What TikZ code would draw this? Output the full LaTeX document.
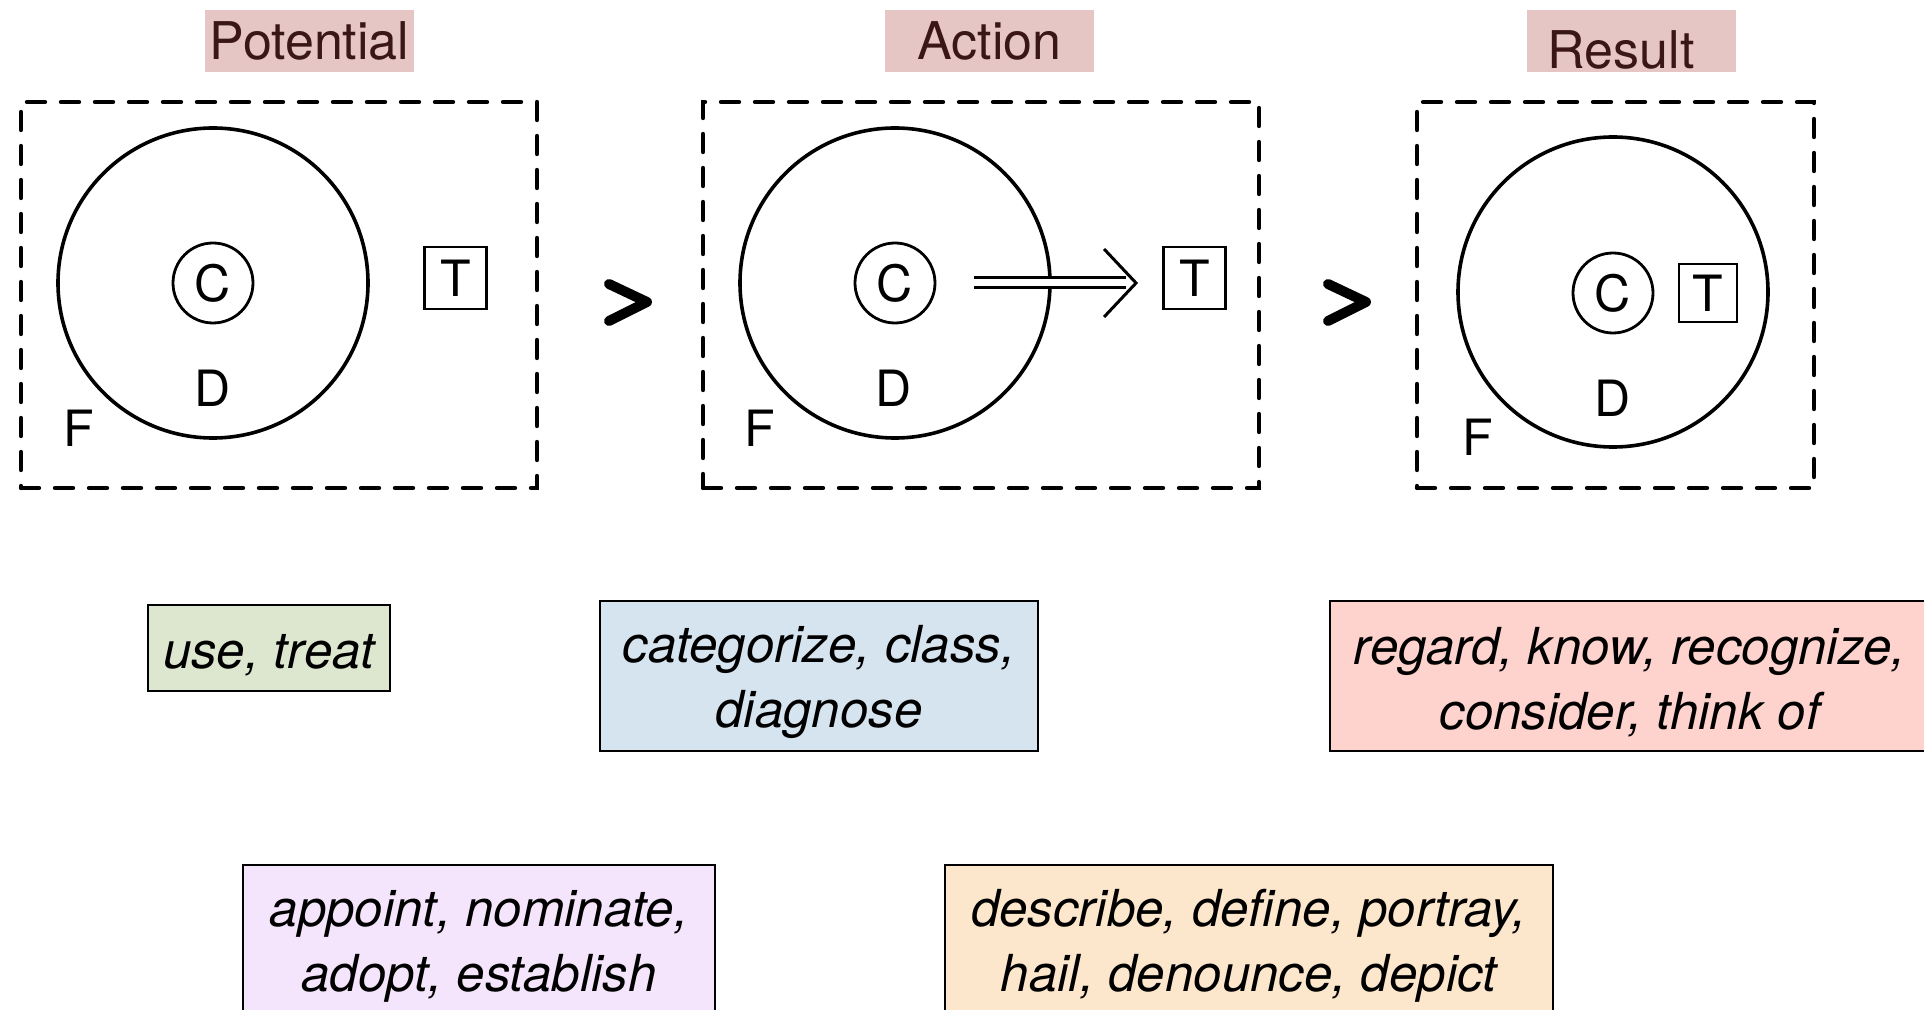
\documentclass[tikz,border=0pt]{standalone}
\usepackage{fontspec}
\setmainfont{TeX Gyre Heros}
\usetikzlibrary{arrows.meta}

\definecolor{headfill}{HTML}{E5C6C5}
\definecolor{headtext}{HTML}{3A1616}
\definecolor{usefill}{HTML}{DDE7CF}
\definecolor{catfill}{HTML}{D6E4F0}
\definecolor{regfill}{HTML}{FFD3CD}
\definecolor{appfill}{HTML}{F4E5FC}
\definecolor{desfill}{HTML}{FDE7CC}

% lowers the verb lists a little inside their boxes
\newcommand{\toppad}{\rule{0pt}{24.5pt}}

\begin{document}
\begin{tikzpicture}[
  x=0.5pt, y=-0.5pt,
  font=\fontsize{25}{30}\selectfont,
  heading/.style={fill=headfill, text=headtext, inner sep=0pt,
                  font=\fontsize{26}{30}\selectfont,
                  minimum width=104.5pt, text height=25pt, text depth=6pt},
  scene/.style={draw, line width=2.2pt, dash pattern=on 9pt off 8pt,
                line cap=round, minimum height=193pt, inner sep=0pt},
  dom/.style={draw, circle, line width=1.8pt, minimum size=155pt, inner sep=0pt},
  conc/.style={draw, circle, line width=1.4pt, minimum size=40pt, inner sep=0pt},
  term/.style={draw, line width=1.4pt, minimum size=31pt, inner sep=0pt},
  lab/.style={anchor=base, inner sep=0pt},
  gt/.style={line width=5pt, line cap=round, line join=round},
  verbs/.style={draw, line width=1pt, align=center, inner sep=0pt,
                font=\fontsize{25.5}{32.5}\itshape\selectfont},
  dbl/.style={double, line width=1.5pt, double distance=3.5pt},
  head/.style={draw=white, line width=1pt,
               -{Straight Barb[black, length=16pt, width=34pt, line width=1.5pt]}},
]
\useasboundingbox (0,0) rectangle (1924,1010);

\node[heading] (pot) at (309.5,41) {Potential};
\node[heading] (act) at (989.5,41) {Action};
\node[heading, text height=29.5pt, text depth=1.5pt] (res) at (1631,41) {Result\hspace*{10pt}};

\node[scene, minimum width=258pt] (f1) at (279,295) {};
\node[scene, minimum width=278pt] (f2) at (981,295) {};
\node[scene, minimum width=198.5pt] (f3) at (1615.5,295) {};

% potential
\node[dom] (d1) at (213,283) {};
\node[conc] (c1) at (213,283) {C};
\node[term] (t1) at (455.5,278) {T};
\node[lab] (dl1) at (213,407) {D};
\node[lab] (fl1) at (79,447) {F};

% action
\node[dom] (d2) at (895,283) {};
\node[conc] (c2) at (895,283) {C};
\node[term] (t2) at (1194.5,278) {T};
\node[lab] (dl2) at (894,407) {D};
\node[lab] (fl2) at (760,447) {F};
\draw[dbl, shorten <=19pt, shorten >=18pt] (c2.east) -- (c2.east -| t2.west);
\draw[head, shorten <=19pt, shorten >=12pt] (c2.east) -- (c2.east -| t2.west);

% result
\node[dom] (d3) at (1613,292) {};
\node[conc] (c3) at (1613,293) {C};
\node[term, minimum size=29pt] (t3) at (1708,293) {T};
\node[lab] (dl3) at (1613,417) {D};
\node[lab] (fl3) at (1478,456) {F};

\draw[gt] (609,284) -- (647,302) -- (609,321);
\draw[gt] (1328,284) -- (1366,302) -- (1328,321);

\node[verbs, fill=usefill, minimum width=121pt, minimum height=43pt] (use) at (269,648) {\toppad use, treat};
\node[verbs, fill=catfill, minimum width=219pt, minimum height=75pt] (cat) at (819,676) {\toppad categorize, class,\\ diagnose};
\node[verbs, fill=regfill, minimum width=300pt, minimum height=75pt] (reg) at (1630,676) {\toppad regard, know, recognize,\\ consider, think of};
\node[verbs, fill=appfill, minimum width=236pt, minimum height=75pt] (app) at (479,940) {\toppad appoint, nominate,\\ adopt, establish};
\node[verbs, fill=desfill, minimum width=304pt, minimum height=75pt] (des) at (1249,940) {\toppad describe, define, portray,\\ hail, denounce, depict};
\end{tikzpicture}
\end{document}
